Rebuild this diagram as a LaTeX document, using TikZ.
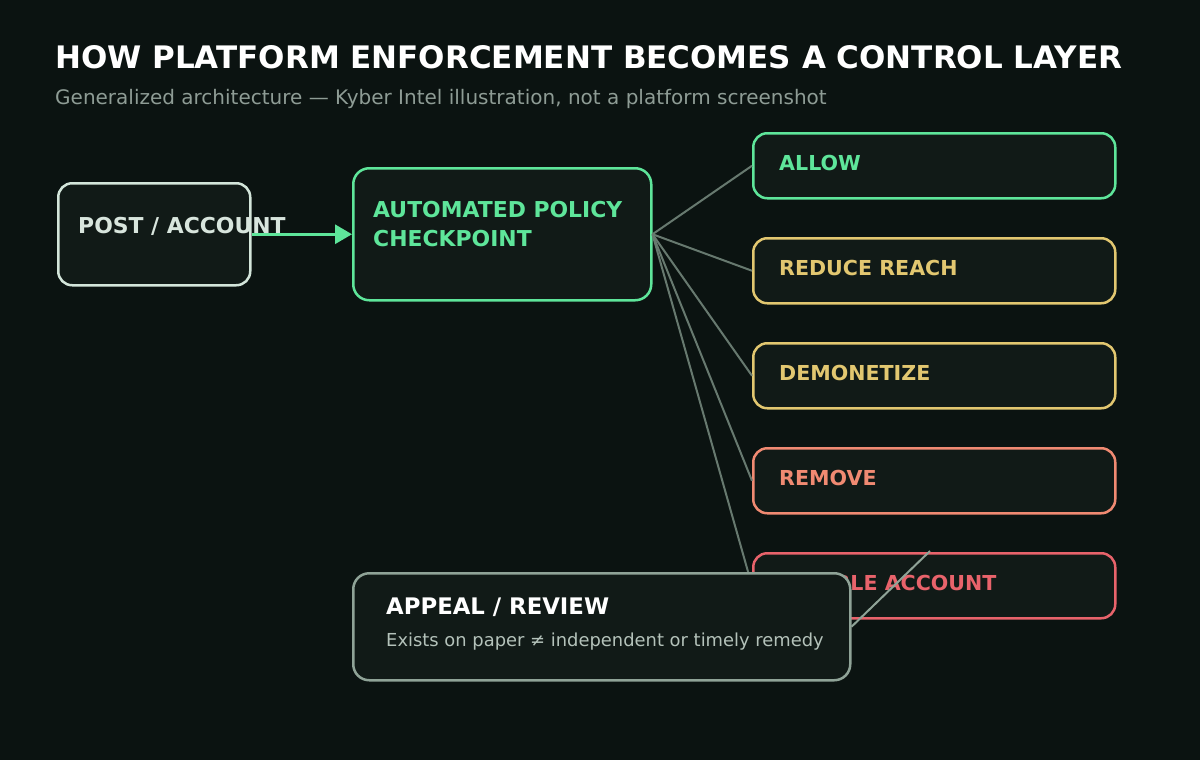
\documentclass[tikz,border=0pt]{standalone}
\usepackage{fontspec}
\setmainfont{DejaVu Sans}
\usetikzlibrary{arrows.meta}
\definecolor{bg}{HTML}{0B1311}
\definecolor{boxfill}{HTML}{111A17}
\definecolor{mint}{HTML}{5EE59A}
\definecolor{gold}{HTML}{E2C770}
\definecolor{salmon}{HTML}{F08A72}
\definecolor{redc}{HTML}{E8636B}
\definecolor{appealc}{HTML}{8FA397}
\definecolor{postc}{HTML}{D3E5DA}
\definecolor{posttext}{HTML}{D8E5DD}
\definecolor{fanc}{HTML}{67796F}
\definecolor{subc}{HTML}{8E9C95}
\definecolor{appsub}{HTML}{B4C2BA}
\begin{document}
\begin{tikzpicture}[x=1pt,y=-1pt,
  box/.style={draw, line width=2.5pt, rounded corners=14pt, fill=boxfill, inner sep=0pt, anchor=north west},
  outbox/.style={box, minimum width=362pt, minimum height=65pt},
  lbl/.style={anchor=base west, inner sep=0pt, font=\bfseries\fontsize{20.6}{24}\selectfont},
  biglbl/.style={lbl, font=\bfseries\fontsize{21.9}{26}\selectfont},
  fan/.style={draw=fanc, line width=2pt},
]
\fill[bg] (0,0) rectangle (1200,760);
\useasboundingbox (0,0) rectangle (1200,760);

\node[anchor=base west, inner sep=0pt, text=white, font=\bfseries\fontsize{31}{36}\selectfont] (title) at (55,69) {HOW PLATFORM ENFORCEMENT BECOMES A CONTROL LAYER};
\node[anchor=base west, inner sep=0pt, text=subc, font=\fontsize{20}{24}\selectfont] (subtitle) at (55,104) {Generalized architecture — Kyber Intel illustration, not a platform screenshot};

% input and checkpoint
\node[box, draw=postc, minimum width=192pt, minimum height=102pt] (post) at (57,182) {};
\node[biglbl, text=posttext] (postlbl) at (78,233) {POST / ACCOUNT};
\node[box, draw=mint, minimum width=298pt, minimum height=132pt, rounded corners=16pt] (check) at (352,167) {};
\node[biglbl, text=mint] (check1) at (373,217) {AUTOMATED POLICY};
\node[biglbl, text=mint] (check2) at (373,246) {CHECKPOINT};
\draw[mint, line width=3pt, -{Triangle[length=17pt,width=19pt]}] (post.east) -- (check.west);

% outcomes
\node[outbox, draw=mint] (allow) at (752,132) {};
\node[lbl, text=mint] (allowlbl) at (779,170) {ALLOW};
\node[outbox, draw=gold] (reduce) at (752,237) {};
\node[lbl, text=gold] (reducelbl) at (779,275) {REDUCE REACH};
\node[outbox, draw=gold] (demon) at (752,342) {};
\node[lbl, text=gold] (demonlbl) at (779,380) {DEMONETIZE};
\node[outbox, draw=salmon] (remove) at (752,447) {};
\node[lbl, text=salmon] (removelbl) at (779,485) {REMOVE};
\node[outbox, draw=redc] (disable) at (752,552) {};
\node[lbl, text=redc] (disablelbl) at (779,590) {DISABLE ACCOUNT};

\draw[fan] (check.east) -- (allow.west);
\draw[fan] (check.east) -- (reduce.west);
\draw[fan] (check.east) -- (demon.west);
\draw[fan] (check.east) -- (remove.west);
\draw[fan] (check.east) -- (disable.west);

% appeal
\node[box, draw=appealc, minimum width=497pt, minimum height=107pt, rounded corners=16pt] (appeal) at (352,572) {};
\node[anchor=base west, inner sep=0pt, text=white, font=\bfseries\fontsize{22.8}{26}\selectfont] (appealt) at (386,614) {APPEAL / REVIEW};
\node[anchor=base west, inner sep=0pt, text=appsub, font=\fontsize{17.9}{21}\selectfont] (appeals) at (386,646) {Exists on paper ≠ independent or timely remedy};
\coordinate (dtop) at (930,551);
\draw[draw=appealc, line width=2pt] (appeal.east) -- (dtop);
\end{tikzpicture}
\end{document}
